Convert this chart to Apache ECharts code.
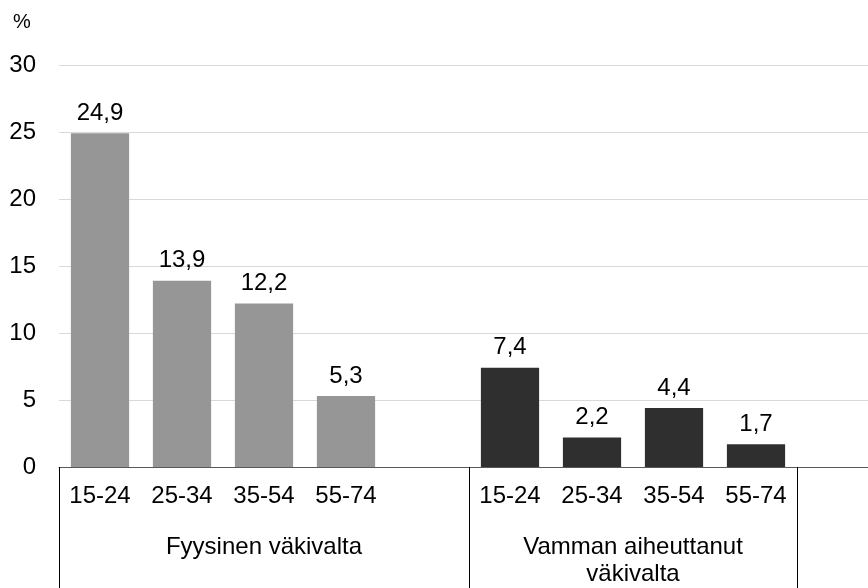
<!DOCTYPE html>
<html>
<head>
<meta charset="utf-8">
<script src="https://cdn.jsdelivr.net/npm/echarts@6/dist/echarts.min.js"></script>
<style>html,body{margin:0;padding:0;background:#fff;overflow:hidden;width:868px;height:588px}#c{width:880px;height:588px}</style>
</head>
<body>
<div id="c"></div>
<script>
const ageGroups = ['15-24', '25-34', '35-54', '55-74'];
const groupNames = ['Fyysinen väkivalta', 'Vamman aiheuttanut\nväkivalta'];
const physical = [24.9, 13.9, 12.2, 5.3];
const injury = [7.4, 2.2, 4.4, 1.7];
const yTicks = [0, 5, 10, 15, 20, 25, 30];

// slots: 4 bars, gap, 4 bars, gap
const categories = [...ageGroups, '', ...ageGroups, ''];
const physData = [...physical, '-', '-', '-', '-', '-', '-'];
const injData = ['-', '-', '-', '-', '-', ...injury, '-'];
const groupAxis = categories.map((c, i) => i === 2 ? 'g0' : (i === 6 ? 'g1' : ''));

const font = "'Liberation Sans', Arial, sans-serif";
const chart = echarts.init(document.getElementById('c'), null, {renderer: 'canvas'});
const lbl = {
  show: true, position: 'top', distance: 8, color: '#000', fontSize: 24, fontFamily: font,
  formatter: p => String(p.value).replace('.', ',')
};
chart.setOption({
  animation: false,
  title: {text: '%', left: 8, top: 7, textStyle: {fontSize: 20, fontWeight: 'normal', color: '#000', fontFamily: font}},
  grid: {left: 59, right: 1, top: 65, bottom: 121, containLabel: false},
  xAxis: [{
    type: 'category', data: categories, position: 'bottom',
    axisLine: {show: true, lineStyle: {color: '#595959', width: 1}},
    axisTick: {show: true, interval: (i) => i === 0 || i === 5 || i === 9, length: 125, lineStyle: {color: '#000', width: 1}},
    axisLabel: {interval: 0, margin: 17, color: '#000', fontSize: 24, fontFamily: font}
  }, {
    type: 'category', data: groupAxis, position: 'bottom',
    axisLine: {show: false}, axisTick: {show: false},
    axisLabel: {
      interval: 0, margin: 67, color: '#000', fontSize: 24, fontFamily: font, lineHeight: 27,
      formatter: (v) => {
        if (v === 'g0') return groupNames[0];
        if (v === 'g1') return groupNames[1].split('\n').map(s => '{s|' + s + '}').join('\n');
        return '';
      },
      rich: {s: {padding: [0, 0, 0, 82], fontSize: 24, fontFamily: font, color: '#000', lineHeight: 27}}
    }
  }],
  yAxis: {
    type: 'value', min: yTicks[0], max: yTicks[yTicks.length - 1], interval: 5,
    axisLine: {show: false}, axisTick: {show: false},
    splitLine: {lineStyle: {color: '#d9d9d9', width: 1}},
    axisLabel: {margin: 23, color: '#000', fontSize: 24, fontFamily: font}
  },
  series: [{
    type: 'bar', stack: 'a', data: physData, barCategoryGap: '29%', xAxisIndex: 0,
    itemStyle: {color: '#969696'}, label: lbl
  }, {
    type: 'bar', stack: 'a', data: injData, barCategoryGap: '29%', xAxisIndex: 0,
    itemStyle: {color: '#2f2f2f'}, label: lbl
  }]
});
</script>
</body>
</html>
